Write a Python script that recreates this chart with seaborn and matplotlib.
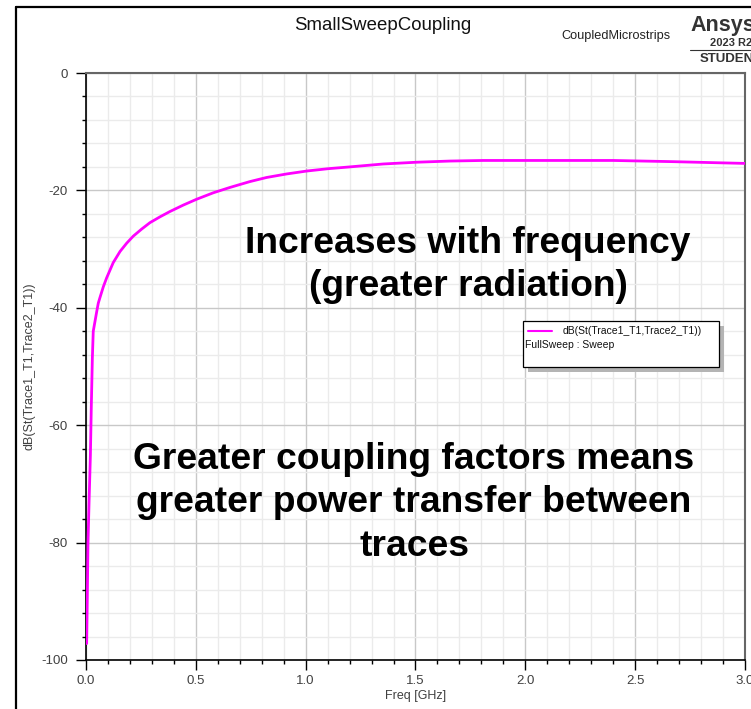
import matplotlib
matplotlib.use("Agg")
import numpy as np
import pandas as pd
import seaborn as sns
import matplotlib.pyplot as plt
from matplotlib.transforms import Affine2D
from matplotlib.lines import Line2D
from matplotlib.patches import Rectangle
from matplotlib.ticker import MultipleLocator

# S-parameter coupling between the two microstrip traces
freq_ghz = [0.003, 0.006, 0.009, 0.014, 0.020, 0.024, 0.029, 0.033, 0.041,
            0.049, 0.056, 0.064, 0.079, 0.094, 0.109, 0.124, 0.155, 0.185,
            0.215, 0.253, 0.291, 0.337, 0.382, 0.443, 0.504, 0.580, 0.655,
            0.746, 0.822, 0.913, 1.005, 1.103, 1.200, 1.353, 1.505, 1.657,
            1.808, 2.110, 2.400, 2.670, 2.886, 3.000]
coupling_db = [-97.2, -89.2, -80.1, -73.0, -65.1, -57.1, -48.5, -44.0, -42.3,
               -40.6, -39.2, -38.2, -36.4, -34.9, -33.6, -32.3, -30.4, -29.0,
               -27.8, -26.6, -25.5, -24.5, -23.6, -22.5, -21.5, -20.4, -19.5,
               -18.5, -17.8, -17.2, -16.7, -16.3, -16.0, -15.5, -15.2, -15.0,
               -14.9, -14.9, -14.9, -15.1, -15.3, -15.4]

x_ticks = [0.0, 0.5, 1.0, 1.5, 2.0, 2.5, 3.0]
y_ticks = [0, -20, -40, -60, -80, -100]

trace_name = "dB(St(Trace1_T1,Trace2_T1))"
sweep_name = "FullSweep : Sweep"
title = "SmallSweepCoupling"
design = "CoupledMicrostrips"
note_top = "Increases with frequency\n(greater radiation)"
note_bottom = "Greater coupling factors means\ngreater power transfer between\ntraces"

W, H = 751, 709
sns.set_style("white")
plt.rcParams["font.family"] = ["Liberation Sans", "DejaVu Sans"]

fig = plt.figure(figsize=(W / 100, H / 100), dpi=100)
px = Affine2D().scale(1 / W, -1 / H).translate(0, 1) + fig.transFigure

ax = fig.add_axes([86 / W, 1 - 660 / H, (745 - 86) / W, (660 - 73) / H])

df = pd.DataFrame({"Freq": freq_ghz, "dB": coupling_db})
sns.lineplot(data=df, x="Freq", y="dB", ax=ax, color="#ff00ff", lw=2.0,
             zorder=5)

ax.set_xlim(0, 3.0)
ax.set_ylim(-100, 0)
ax.set_xticks(x_ticks)
ax.set_xticklabels([f"{v:.1f}" for v in x_ticks])
ax.set_yticks(y_ticks)
ax.set_yticklabels([f"{v:d}" for v in y_ticks])
ax.xaxis.set_minor_locator(MultipleLocator(0.1))
ax.yaxis.set_minor_locator(MultipleLocator(4))

ax.grid(which="major", color="#c8c8c8", lw=1.0)
ax.grid(which="minor", color="#ebebeb", lw=1.0)
ax.set_axisbelow(True)

ax.tick_params(which="major", direction="out", length=7, width=1.0,
               color="black", labelsize=9.5, labelcolor="#404040", pad=4,
               bottom=True, left=True)
ax.tick_params(axis="y", which="major", pad=6)
ax.tick_params(which="minor", direction="out", length=3.0, width=1.0,
               color="black", bottom=True, left=True)

for side in ("left", "bottom"):
    ax.spines[side].set_color("black")
    ax.spines[side].set_linewidth(1.2)
for side in ("top", "right"):
    ax.spines[side].set_color("#666666")
    ax.spines[side].set_linewidth(1.5)

ax.set_xlabel("Freq [GHz]", fontsize=9, color="#404040", labelpad=2)
ax.set_ylabel(trace_name, fontsize=9, color="#404040")
ax.yaxis.set_label_coords((35 - 86) / (745 - 86), 0.5)

# outer report frame
fig.add_artist(Line2D([16, 16], [7, H + 10], transform=px, color="black", lw=1.6))
fig.add_artist(Line2D([16, W + 10], [7, 7], transform=px, color="black", lw=1.6))

# header texts
fig.text(383 / W, 1 - 25 / H, title, ha="center", va="center", fontsize=13.4,
         color="#111111")
fig.text(616 / W, 1 - 36 / H, design, ha="center", va="center", fontsize=9.2,
         color="#222222")
fig.text(690 / W, 1 - 25 / H, "Ansys", ha="left", va="center", fontsize=15.5,
         fontweight="bold", color="#333333")
fig.text(710 / W, 1 - 43 / H, "2023 R2", ha="left", va="center", fontsize=8,
         fontweight="bold", color="#333333")
fig.add_artist(Line2D([690, W + 5], [49.5, 49.5], transform=px, color="#333333", lw=0.8))
fig.text(700 / W, 1 - 59 / H, "STUDENT", ha="left", va="center", fontsize=9.5,
         fontweight="bold", color="#333333")

# legend box with drop shadow
fig.add_artist(Rectangle((528, 326), 196, 46, transform=px, facecolor="#b4b4b4",
                         edgecolor="none"))
fig.add_artist(Rectangle((522.5, 320.5), 196, 46, transform=px, facecolor="white",
                         edgecolor="black", lw=0.9))
fig.add_artist(Line2D([528, 552], [331, 331], transform=px, color="#ff00ff", lw=1.5))
fig.text(563 / W, 1 - 331 / H, trace_name, ha="left", va="center", fontsize=7.5,
         color="#111111")
fig.text(525 / W, 1 - 345 / H, sweep_name, ha="left", va="center", fontsize=7.5,
         color="#111111")

# annotations
fig.text(468 / W, 1 - 265 / H, note_top, ha="center", va="center",
         fontsize=26.8, fontweight="bold", color="black", linespacing=1.33,
         multialignment="center")
fig.text(414 / W, 1 - 503 / H, note_bottom, ha="center", va="center",
         fontsize=26.8, fontweight="bold", color="black", linespacing=1.33,
         multialignment="center")

fig.savefig("out.png", dpi=100)
